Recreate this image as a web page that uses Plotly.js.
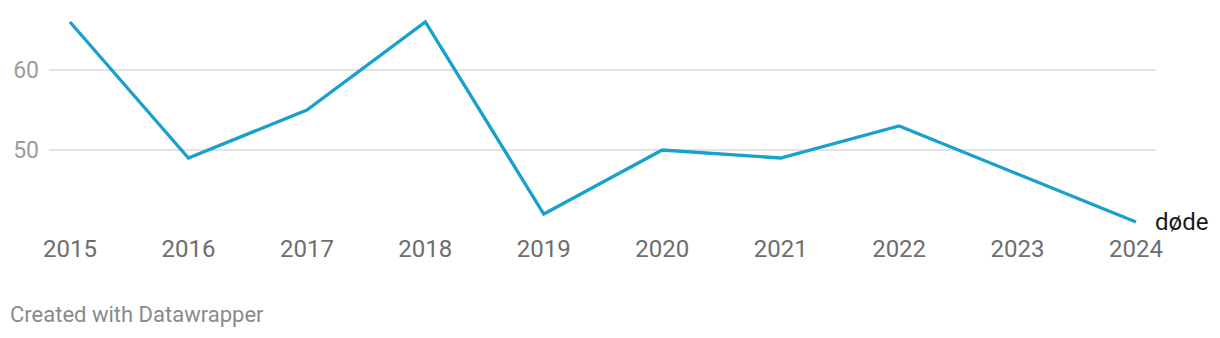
<!DOCTYPE html>
<html><head><meta charset="utf-8">
<script src="https://cdn.plot.ly/plotly-3.0.1.min.js"></script>
<style>html,body{margin:0;padding:0;background:#fff}#chart{width:1220px;height:338px}</style>
</head><body><div id="chart"></div>
<script>
const years = [2015, 2016, 2017, 2018, 2019, 2020, 2021, 2022, 2023, 2024];
const dode = [66, 49, 55, 66, 42, 50, 49, 53, 47, 41];
const seriesName = "døde";
const yTicks = [50, 60];
const footer = "Created with Datawrapper";

const font = "Roboto, 'Noto Sans', sans-serif";
const data = [{
  x: years, y: dode, type: 'scatter', mode: 'lines',
  line: {color: '#18a1cd', width: 3.3},
  hoverinfo: 'skip', showlegend: false
}];
const layout = {
  width: 1220, height: 338,
  margin: {l: 49, r: 64, t: 10, b: 108},
  paper_bgcolor: '#fff', plot_bgcolor: '#fff',
  font: {family: font},
  xaxis: {
    range: [2015 - 0.1773, 2024 + 0.1689],
    tickvals: years, ticktext: years.map(String),
    showgrid: false, zeroline: false, showline: false,
    ticks: '', ticklabelstandoff: 2,
    tickfont: {family: font, size: 24, color: '#6e6e6e'}
  },
  yaxis: {
    range: [40, 67.5],
    tickvals: yTicks, ticktext: yTicks.map(String),
    showgrid: true, gridcolor: '#e3e3e3', gridwidth: 2,
    zeroline: false, showline: false, ticks: '', ticklabelstandoff: 9,
    tickfont: {family: font, size: 23, color: '#9c9c9c'}
  },
  annotations: [
    {x: years[years.length-1], y: dode[dode.length-1], xref: 'x', yref: 'y',
     text: seriesName, showarrow: false, xanchor: 'left', yanchor: 'middle',
     xshift: 17, font: {family: font, size: 24, color: '#1a1a1a'}},
    {x: 8, y: 314, xref: 'paper', yref: 'paper', text: footer, showarrow: false,
     xanchor: 'left', yanchor: 'middle', font: {family: font, size: 22, color: '#8a8a8a'}}
  ]
};
const pw = 1220 - 49 - 64, ph = 338 - 10 - 108;
layout.annotations[1].x = (8 - 49) / pw;
layout.annotations[1].y = (338 - 108 - 314) / ph;
Plotly.newPlot('chart', data, layout, {displayModeBar: false, staticPlot: true});
</script></body></html>
